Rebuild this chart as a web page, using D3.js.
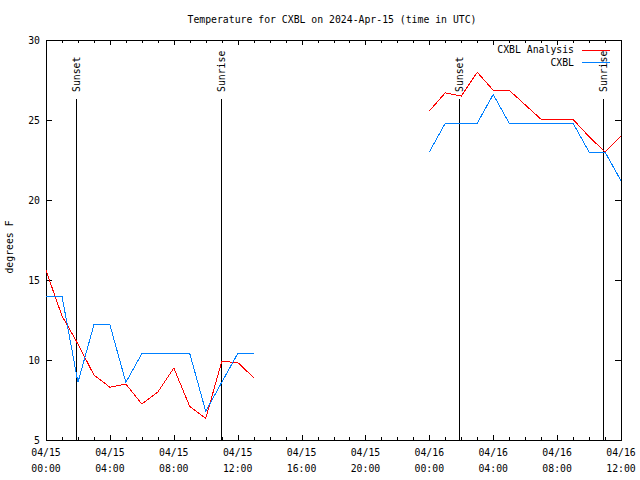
<!DOCTYPE html>
<html><head><meta charset="utf-8">
<script src="https://cdn.jsdelivr.net/npm/d3@7"></script>
<style>body{margin:0;background:#fff}svg{display:block}text{font-family:"DejaVu Sans Mono","Liberation Mono",monospace;font-size:9.8px;fill:#000}</style>
</head><body><svg id="c" width="640" height="480"></svg>
<script>
const title = "Temperature for CXBL on 2024-Apr-15 (time in UTC)";
const yLabel = "degrees F";
// hours since 2024-04-15 00:00 UTC
const hours = [0,1,2,3,4,5,6,7,8,9,10,11,12,13,14,15,16,17,18,19,20,21,22,23,24,25,26,27,28,29,30,31,32,33,34,35,36];
const analysis = [15.6,12.75,11.0,9.06,8.3,8.5,7.25,8.0,9.5,7.1,6.35,9.9,9.85,8.9,
  null,null,null,null,null,null,null,null,null,null,
  25.56,26.7,26.5,27.98,26.86,26.86,25.95,25.04,25.0,25.04,23.96,23.0,24.0];
const observed = [14.0,14.0,8.6,12.2,12.2,8.6,10.4,10.4,10.4,10.4,6.8,8.6,10.4,10.4,
  null,null,null,null,null,null,null,null,null,null,
  23.0,24.8,24.8,24.8,26.6,24.8,24.8,24.8,24.8,24.8,23.0,23.0,21.2];
const sunEvents = [{label:"Sunset",h:1.86},{label:"Sunrise",h:10.98},{label:"Sunset",h:25.88},{label:"Sunrise",h:34.9}];
const yTicks = [5,10,15,20,25,30];
const xTickHours = [0,4,8,12,16,20,24,28,32,36];
const seriesNames = ["CXBL Analysis","CXBL"];
const seriesColors = ["#ff0000","#0080ff"];

const t0 = Date.UTC(2024,3,15,0,0);
const toDate = h => new Date(t0 + h*3600e3);
const svg = d3.select("#c");
const L=46,R=621,T=40,B=440;
const x = d3.scaleUtc().domain([toDate(0),toDate(36)]).range([L,R]);
const y = d3.scaleLinear().domain([5,30]).range([B,T]);
const fmt1 = d3.utcFormat("%m/%d"), fmt2 = d3.utcFormat("%H:%M");

const g = svg.append("g").attr("shape-rendering","crispEdges");
const minor = d3.range(0,37,1);
minor.forEach(h=>{
  const major = h%4===0;
  const len = major?5:3;
  const xx = Math.round(x(toDate(h)))+0.5;
  g.append("line").attr("x1",xx).attr("x2",xx).attr("y1",B).attr("y2",B-len).attr("stroke","#000");
  g.append("line").attr("x1",xx).attr("x2",xx).attr("y1",T).attr("y2",T+len).attr("stroke","#000");
});
yTicks.forEach(v=>{
  const yy = Math.round(y(v))+0.5;
  g.append("line").attr("x1",L).attr("x2",L+6).attr("y1",yy).attr("y2",yy).attr("stroke","#000");
  g.append("line").attr("x1",R).attr("x2",R-6).attr("y1",yy).attr("y2",yy).attr("stroke","#000");
  svg.append("text").attr("x",40).attr("y",y(v)+3.5).attr("text-anchor","end").text(v);
});
xTickHours.forEach(h=>{
  const d = toDate(h);
  svg.append("text").attr("x",x(d)).attr("y",456).attr("text-anchor","middle").text(fmt1(d));
  svg.append("text").attr("x",x(d)).attr("y",472).attr("text-anchor","middle").text(fmt2(d));
});
sunEvents.forEach(s=>{
  const xx = Math.round(x(toDate(s.h)))+0.5;
  g.append("line").attr("x1",xx).attr("x2",xx).attr("y1",B).attr("y2",99).attr("stroke","#000");
  svg.append("text").attr("transform",`translate(${xx+3.5},92) rotate(-90)`).attr("text-anchor","start").text(s.label);
});
const line = d3.line().defined(d=>d.v!==null).x(d=>x(toDate(d.h))).y(d=>y(d.v));
[analysis,observed].forEach((arr,i)=>{
  const data = hours.map((h,j)=>({h,v:arr[j]}));
  svg.append("path").attr("d",line(data)).attr("fill","none").attr("stroke",seriesColors[i]).attr("stroke-width",1).attr("shape-rendering","crispEdges");
});
g.append("rect").attr("x",L+0.5).attr("y",T+0.5).attr("width",R-L).attr("height",B-T).attr("fill","none").attr("stroke","#000");
seriesNames.forEach((n,i)=>{
  const ly = 49.5 + i*12.5;
  svg.append("text").attr("x",574).attr("y",ly+3.5).attr("text-anchor","end").text(n);
  svg.append("rect").attr("x",582).attr("y",Math.round(ly)).attr("width",28).attr("height",1).attr("fill",seriesColors[i]);
});
svg.append("text").attr("x",332).attr("y",23).attr("text-anchor","middle").text(title);
svg.append("text").attr("transform","translate(13,247) rotate(-90)").attr("text-anchor","middle").text(yLabel);
</script></body></html>
